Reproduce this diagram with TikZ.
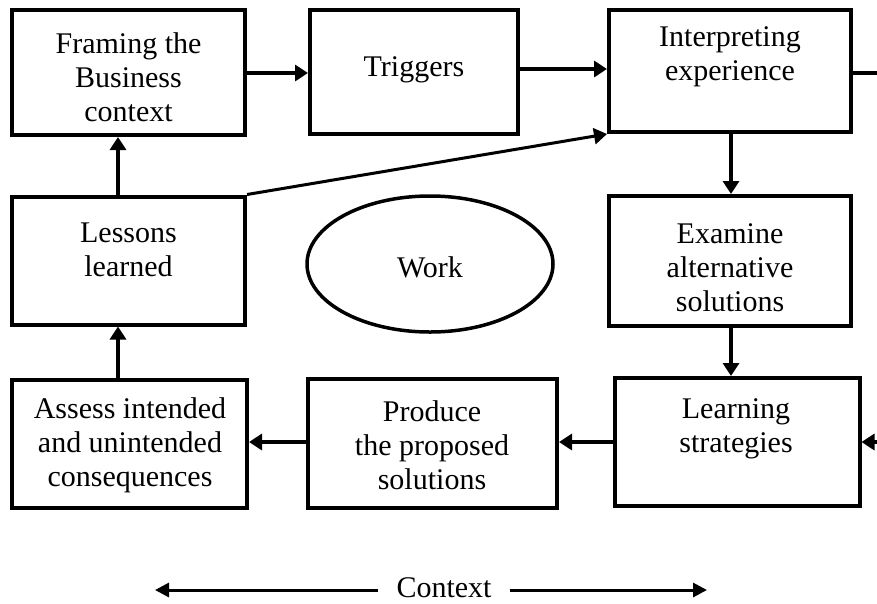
\documentclass[tikz,border=0pt]{standalone}
\usepackage{fontspec}
\setmainfont{Liberation Serif}
\usetikzlibrary{arrows.meta,shapes.geometric}
\tikzset{
  box/.style={draw, line width=4pt, rectangle, inner sep=0pt},
  txt/.style={align=center, inner sep=0pt, font=\fontsize{30}{34}\selectfont},
  arr/.style={line width=3.8pt, -{Triangle[length=13pt,width=16pt]}},
  plain/.style={line width=3.8pt},
  carr/.style={line width=3pt, -{Triangle[length=14pt,width=14pt]}},
}
\begin{document}
\begin{tikzpicture}[x=1pt,y=-1pt]
\useasboundingbox (0,0) rectangle (877,603);
% boxes
\node[box, minimum width=233pt, minimum height=125pt] (A) at (128.5,72.5) {};
\node[box, minimum width=208pt, minimum height=124pt] (B) at (414,72) {};
\node[box, minimum width=242pt, minimum height=122pt] (C) at (730,71) {};
\node[box, minimum width=233pt, minimum height=128pt] (D) at (128.5,260.5) {};
\node[box, minimum width=242pt, minimum height=130pt] (E) at (730,261) {};
\node[box, minimum width=245pt, minimum height=128pt] (F) at (737,442) {};
\node[box, minimum width=249pt, minimum height=129pt] (G) at (432.5,443.5) {};
\node[box, minimum width=235pt, minimum height=128pt] (H) at (129.5,444) {};
\node[draw, line width=3.5pt, ellipse, minimum width=246pt, minimum height=136pt, inner sep=0pt] (W) at (430,264) {};
% texts
\node[txt] (At) at (128.5,77) {Framing the\\Business\\context};
\node[txt] (Bt) at (414,70) {Triggers};
\node[txt] (Ct) at (730,57) {Interpreting\\experience};
\node[txt] (Dt) at (128.5,250) {Lessons\\learned};
\node[txt] (Et) at (730,268) {Examine\\alternative\\solutions};
\node[txt] (Ft) at (736,429) {Learning\\strategies};
\node[txt] (Gt) at (432,445) {Produce\\the proposed\\solutions};
\node[txt] (Ht) at (130,445) {Assess intended\\and unintended\\consequences};
\node[txt] (Wt) at (430,267) {Work};
\node[txt, inner xsep=18pt] (K) at (444,588) {Context};
% outside coordinates
\coordinate (cout) at (877,73);
\coordinate (fin) at (877,442);
\coordinate (kl) at (155,590);
\coordinate (kr) at (707,590);
% connectors
\draw[arr] (A.east |- 0,73) -- (A.east |- 0,73 -| B.west);
\draw[arr] (B.east |- 0,69) -- (B.east |- 0,69 -| C.west);
\draw[plain] (C.east |- cout) -- (cout);
\draw[arr] (C.south -| 731,0) -- (E.north -| 731,0);
\draw[arr] (E.south -| 731,0) -- (F.north -| 731,0);
\draw[arr] (fin) -- (F.east |- fin);
\draw[arr] (F.west) -- (F.west -| G.east);
\draw[arr] (G.west |- F.west) -- (H.east |- F.west);
\draw[arr] (H.north -| 118,0) -- (D.south -| 118,0);
\draw[arr] (D.north -| 118,0) -- (A.south -| 118,0);
\draw[arr, line width=3pt] (D.north east) -- (C.south west);
\draw[carr] (K.west |- kl) -- (kl);
\draw[carr] (K.east |- kr) -- (kr);
\end{tikzpicture}
\end{document}
